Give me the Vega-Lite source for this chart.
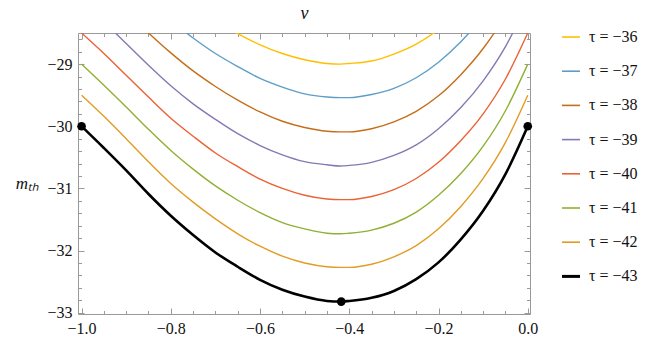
{
  "$schema": "https://vega.github.io/schema/vega-lite/v6.json",
  "autosize": "none",
  "width": 452,
  "height": 281,
  "padding": {"left": 78, "top": 33, "right": 139, "bottom": 26},
  "background": "white",
  "config": {
    "font": "Liberation Serif",
    "view": {"stroke": null},
    "axis": {
      "domainColor": "#9a9a9a",
      "tickColor": "#9a9a9a",
      "labelFont": "Liberation Serif",
      "labelFontSize": 16,
      "labelColor": "#111",
      "titleFont": "Liberation Serif",
      "titleFontWeight": "normal",
      "titleColor": "#111",
      "grid": false
    },
    "legend": {"labelFont": "Liberation Serif"}
  },
  "datasets": {
    "curves": [
      {"v": -1.0, "τ = −43": -30.00, "τ = −42": -29.50, "τ = −41": -29.00, "τ = −40": -28.50, "τ = −39": -28.00, "τ = −38": -27.50, "τ = −37": -27.00, "τ = −36": -26.50},
      {"v": -0.95, "τ = −43": -30.35, "τ = −42": -29.84, "τ = −41": -29.34, "τ = −40": -28.83, "τ = −39": -28.32, "τ = −38": -27.82, "τ = −37": -27.31, "τ = −36": -26.81},
      {"v": -0.9, "τ = −43": -30.71, "τ = −42": -30.20, "τ = −41": -29.69, "τ = −40": -29.18, "τ = −39": -28.67, "τ = −38": -28.16, "τ = −37": -27.64, "τ = −36": -27.13},
      {"v": -0.85, "τ = −43": -31.09, "τ = −42": -30.57, "τ = −41": -30.05, "τ = −40": -29.53, "τ = −39": -29.02, "τ = −38": -28.50, "τ = −37": -27.98, "τ = −36": -27.46},
      {"v": -0.8, "τ = −43": -31.44, "τ = −42": -30.92, "τ = −41": -30.39, "τ = −40": -29.87, "τ = −39": -29.35, "τ = −38": -28.82, "τ = −37": -28.30, "τ = −36": -27.78},
      {"v": -0.75, "τ = −43": -31.75, "τ = −42": -31.22, "τ = −41": -30.69, "τ = −40": -30.16, "τ = −39": -29.64, "τ = −38": -29.11, "τ = −37": -28.58, "τ = −36": -28.05},
      {"v": -0.7, "τ = −43": -32.03, "τ = −42": -31.49, "τ = −41": -30.96, "τ = −40": -30.43, "τ = −39": -29.89, "τ = −38": -29.36, "τ = −37": -28.83, "τ = −36": -28.29},
      {"v": -0.65, "τ = −43": -32.26, "τ = −42": -31.73, "τ = −41": -31.19, "τ = −40": -30.65, "τ = −39": -30.12, "τ = −38": -29.58, "τ = −37": -29.04, "τ = −36": -28.51},
      {"v": -0.6, "τ = −43": -32.47, "τ = −42": -31.93, "τ = −41": -31.39, "τ = −40": -30.85, "τ = −39": -30.31, "τ = −38": -29.77, "τ = −37": -29.23, "τ = −36": -28.69},
      {"v": -0.55, "τ = −43": -32.63, "τ = −42": -32.09, "τ = −41": -31.55, "τ = −40": -31.00, "τ = −39": -30.46, "τ = −38": -29.92, "τ = −37": -29.37, "τ = −36": -28.83},
      {"v": -0.5, "τ = −43": -32.74, "τ = −42": -32.20, "τ = −41": -31.65, "τ = −40": -31.11, "τ = −39": -30.57, "τ = −38": -30.02, "τ = −37": -29.48, "τ = −36": -28.93},
      {"v": -0.45, "τ = −43": -32.81, "τ = −42": -32.26, "τ = −41": -31.72, "τ = −40": -31.17, "τ = −39": -30.62, "τ = −38": -30.08, "τ = −37": -29.53, "τ = −36": -28.99},
      {"v": -0.42, "τ = −43": -32.82, "τ = −42": -32.27, "τ = −41": -31.73, "τ = −40": -31.18, "τ = −39": -30.64, "τ = −38": -30.09, "τ = −37": -29.54, "τ = −36": -29.00},
      {"v": -0.4, "τ = −43": -32.81, "τ = −42": -32.27, "τ = −41": -31.72, "τ = −40": -31.18, "τ = −39": -30.63, "τ = −38": -30.09, "τ = −37": -29.54, "τ = −36": -28.99},
      {"v": -0.35, "τ = −43": -32.76, "τ = −42": -32.22, "τ = −41": -31.67, "τ = −40": -31.13, "τ = −39": -30.58, "τ = −38": -30.04, "τ = −37": -29.49, "τ = −36": -28.95},
      {"v": -0.3, "τ = −43": -32.65, "τ = −42": -32.10, "τ = −41": -31.56, "τ = −40": -31.02, "τ = −39": -30.47, "τ = −38": -29.93, "τ = −37": -29.39, "τ = −36": -28.84},
      {"v": -0.25, "τ = −43": -32.46, "τ = −42": -31.92, "τ = −41": -31.38, "τ = −40": -30.84, "τ = −39": -30.30, "τ = −38": -29.76, "τ = −37": -29.22, "τ = −36": -28.68},
      {"v": -0.2, "τ = −43": -32.19, "τ = −42": -31.65, "τ = −41": -31.11, "τ = −40": -30.58, "τ = −39": -30.04, "τ = −38": -29.51, "τ = −37": -28.97, "τ = −36": -28.44},
      {"v": -0.15, "τ = −43": -31.82, "τ = −42": -31.29, "τ = −41": -30.76, "τ = −40": -30.23, "τ = −39": -29.70, "τ = −38": -29.17, "τ = −37": -28.64, "τ = −36": -28.11},
      {"v": -0.1, "τ = −43": -31.36, "τ = −42": -30.84, "τ = −41": -30.32, "τ = −40": -29.80, "τ = −39": -29.27, "τ = −38": -28.75, "τ = −37": -28.23, "τ = −36": -27.71},
      {"v": -0.05, "τ = −43": -30.77, "τ = −42": -30.26, "τ = −41": -29.75, "τ = −40": -29.24, "τ = −39": -28.72, "τ = −38": -28.21, "τ = −37": -27.70, "τ = −36": -27.18},
      {"v": 0.0, "τ = −43": -30.00, "τ = −42": -29.50, "τ = −41": -29.00, "τ = −40": -28.50, "τ = −39": -28.00, "τ = −38": -27.50, "τ = −37": -27.00, "τ = −36": -26.50}
    ],
    "dots": [
      {"v": -1.0, "m": -30.0},
      {"v": -0.418, "m": -32.82},
      {"v": 0.0, "m": -30.0}
    ]
  },
  "resolve": {"axis": {"x": "independent", "y": "independent"}},
  "layer": [
    {
      "data": {"name": "curves"},
      "transform": [
        {"fold": ["τ = −36", "τ = −37", "τ = −38", "τ = −39", "τ = −40", "τ = −41", "τ = −42", "τ = −43"], "as": ["series", "m"]}
      ],
      "mark": {"type": "line", "clip": true, "interpolate": "monotone"},
      "encoding": {
        "x": {
          "field": "v", "type": "quantitative",
          "scale": {"domain": [-1.008, 0.005], "nice": false, "zero": false},
          "axis": {
            "orient": "bottom", "title": null,
            "values": [-1, -0.95, -0.9, -0.85, -0.8, -0.75, -0.7, -0.65, -0.6, -0.55, -0.5, -0.45, -0.4, -0.35, -0.3, -0.25, -0.2, -0.15, -0.1, -0.05, 0],
            "labelExpr": "abs(datum.value*5 - round(datum.value*5)) < 0.001 ? format(datum.value, '.1f') : ''",
            "tickSize": {"condition": {"test": "abs(datum.value*5 - round(datum.value*5)) < 0.001", "value": -6}, "value": -3.5},
            "labelPadding": 12,
            "labelFlush": false
          }
        },
        "y": {
          "field": "m", "type": "quantitative",
          "scale": {"domain": [-33.02, -28.5], "nice": false, "zero": false},
          "axis": {
            "orient": "left",
            "values": [-33, -32.8, -32.6, -32.4, -32.2, -32, -31.8, -31.6, -31.4, -31.2, -31, -30.8, -30.6, -30.4, -30.2, -30, -29.8, -29.6, -29.4, -29.2, -29, -28.8, -28.6],
            "labelExpr": "abs(datum.value - round(datum.value)) < 0.001 ? format(datum.value, '.0f') : ''",
            "tickSize": {"condition": {"test": "abs(datum.value - round(datum.value)) < 0.001", "value": -6}, "value": -3.5},
            "labelPadding": 12,
            "labelFlush": false,
            "title": "mₜₕ",
            "titleAngle": 0,
            "titleFontSize": 17,
            "titleFontStyle": "italic",
            "titleAlign": "center",
            "titleBaseline": "middle",
            "titleX": -51,
            "titleY": 150
          }
        },
        "color": {
          "field": "series", "type": "nominal",
          "scale": {
            "domain": ["τ = −36", "τ = −37", "τ = −38", "τ = −39", "τ = −40", "τ = −41", "τ = −42", "τ = −43"],
            "range": ["#FFBF00", "#5D9EC7", "#C56E1A", "#8778B3", "#EB6235", "#8FB032", "#E19C24", "#000000"]
          },
          "legend": {
            "title": null, "orient": "none", "legendX": 485, "legendY": -4,
            "symbolType": "stroke", "symbolSize": 324, "symbolStrokeWidth": 1.6,
            "labelFontSize": 16, "labelColor": "#111", "labelOffset": 10, "rowPadding": 18.2, "padding": 0, "labelLimit": 200,
            "encode": {"symbols": {"update": {"strokeWidth": {"signal": "datum.value === 'τ = −43' ? 3 : 1.6"}}}}
          }
        },
        "strokeWidth": {
          "condition": {"test": "datum.series === 'τ = −43'", "value": 2.6},
          "value": 1.4
        }
      }
    },
    {
      "data": {"name": "dots"},
      "mark": {"type": "point", "filled": true, "color": "#000", "size": 75, "opacity": 1, "clip": false},
      "encoding": {
        "x": {
          "field": "v", "type": "quantitative",
          "axis": {
            "orient": "top", "title": "v", "labels": false,
            "values": [-1, -0.95, -0.9, -0.85, -0.8, -0.75, -0.7, -0.65, -0.6, -0.55, -0.5, -0.45, -0.4, -0.35, -0.3, -0.25, -0.2, -0.15, -0.1, -0.05, 0],
            "tickSize": {"condition": {"test": "abs(datum.value*5 - round(datum.value*5)) < 0.001", "value": -6}, "value": -3.5},
            "titleFontSize": 18, "titleFontStyle": "italic", "titlePadding": 10
          }
        },
        "y": {
          "field": "m", "type": "quantitative",
          "axis": {
            "orient": "right", "title": null, "labels": false,
            "values": [-33, -32.8, -32.6, -32.4, -32.2, -32, -31.8, -31.6, -31.4, -31.2, -31, -30.8, -30.6, -30.4, -30.2, -30, -29.8, -29.6, -29.4, -29.2, -29, -28.8, -28.6],
            "tickSize": {"condition": {"test": "abs(datum.value - round(datum.value)) < 0.001", "value": -6}, "value": -3.5}
          }
        }
      }
    }
  ]
}
